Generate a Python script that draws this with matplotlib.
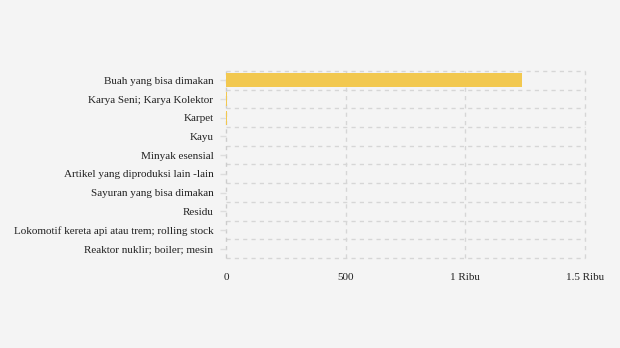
import numpy as np
import matplotlib.pyplot as plt

categories = ["Buah yang bisa dimakan", "Karya Seni; Karya Kolektor", "Karpet",
              "Kayu", "Minyak esensial", "Artikel yang diproduksi lain -lain",
              "Sayuran yang bisa dimakan", "Residu",
              "Lokomotif kereta api atau trem; rolling stock",
              "Reaktor nuklir; boiler; mesin"]
values = [1237, 5, 4, 1, 1, 1, 0.5, 0.5, 0.5, 0.5]
xticks = [0, 500, 1000, 1500]
xtick_labels = ["0", "500", "1 Ribu", "1.5 Ribu"]

plt.rcParams['font.family'] = ['Liberation Serif', 'DejaVu Serif']

fig = plt.figure(figsize=(6.2, 3.48), dpi=100, facecolor="#f4f4f4")
ax = fig.add_axes([0.3645, 0.2586, 0.579, 0.5374])
ax.patch.set_facecolor("#f4f4f4")

Y = np.arange(len(categories))
ax.barh(Y, values, height=0.75, color="#f2c84f", zorder=2)

ax.set_xlim(0, 1500)
ax.set_ylim(len(categories) - 0.5, -0.5)
for s in ax.spines.values():
    s.set_visible(False)

ax.set_xticks(xticks)
ax.set_xticklabels(xtick_labels, fontsize=8, color="#222222")
ax.tick_params(axis="x", length=0, pad=11)
ax.set_yticks(Y)
ax.set_yticklabels(categories, fontsize=8, color="#222222")
ax.tick_params(axis="y", length=4, width=1, color="#dddddd", pad=5)

# dashed grid: row boundaries and x ticks
for b in np.arange(len(categories) + 1) - 0.5:
    ax.axhline(b, color="#d6d6d6", ls=(0, (3, 3)), lw=1, zorder=0, clip_on=False)
for x in xticks:
    c = "#cccccc" if x == 0 else "#d6d6d6"
    ax.axvline(x, color=c, ls=(0, (3, 3)), lw=1, zorder=1, clip_on=False)

plt.savefig("out.png", facecolor=fig.get_facecolor())
